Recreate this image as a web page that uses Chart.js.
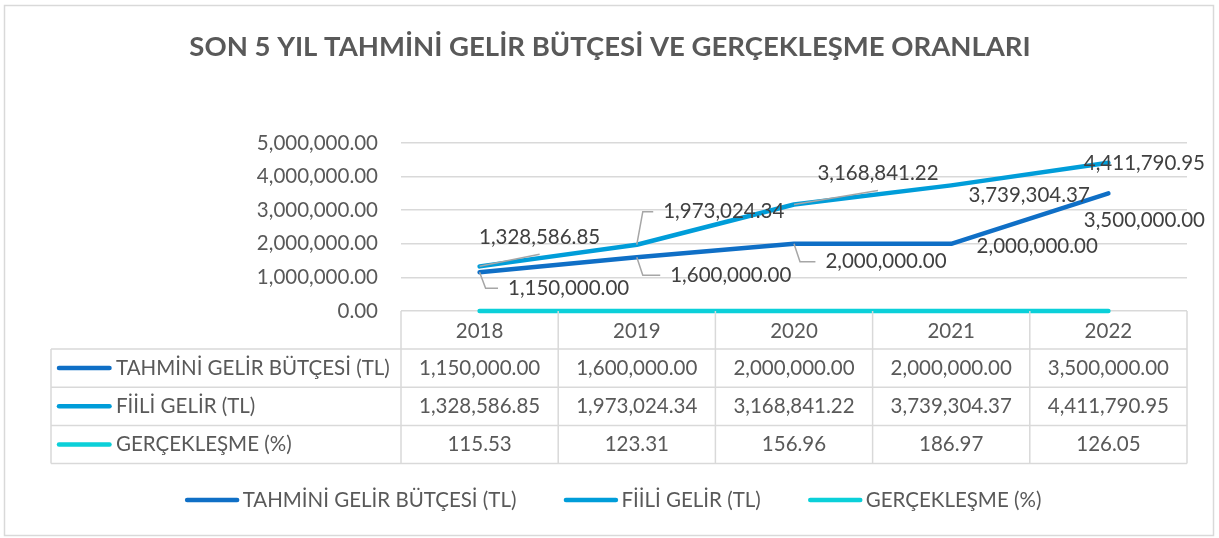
<!DOCTYPE html>
<html><head><meta charset="utf-8">
<script src="https://cdn.jsdelivr.net/npm/chart.js@4"></script>
<style>html,body{margin:0;padding:0;background:#fff;overflow:hidden}</style>
</head><body>
<canvas id="c" width="1219" height="538"></canvas>
<script>
// ---- data ----
const TITLE = 'SON 5 YIL TAHMİNİ GELİR BÜTÇESİ VE GERÇEKLEŞME ORANLARI';
const years = ['2018', '2019', '2020', '2021', '2022'];
const seriesNames = ['TAHMİNİ GELİR BÜTÇESİ (TL)', 'FİİLİ GELİR (TL)', 'GERÇEKLEŞME (%)'];
const budget = [1150000, 1600000, 2000000, 2000000, 3500000];
const actual = [1328586.85, 1973024.34, 3168841.22, 3739304.37, 4411790.95];
const realization = [115.53, 123.31, 156.96, 186.97, 126.05];
const yTicks = [0, 1000000, 2000000, 3000000, 4000000, 5000000];

// ---- styling ----
const COLORS = ['#0F6FC6', '#009DD9', '#0BD0D9'];
const FONT = 'Lato';
const FS = 20.5;
const TEXT = '#595959';
const LABEL_TEXT = '#404040';
const GRID = '#d9d9d9';
// data label placement relative to each point [dx, dy, leader]
const labelPlacement = [
  [[89, 16, 'elbow'], [94, 18, 'elbow'], [92, 18, 'elbow'], [86, 3, null], [36, 27, null]],
  [[60, -29, 'diag'], [87, -33, 'elbow'], [84, -31, 'diag'], [78, 10, null], [36, 1, null]]
];

const fmt = v => v.toLocaleString('en-US', {minimumFractionDigits: 2, maximumFractionDigits: 2});
const seriesValues = [budget, actual, realization];

const framePlugin = {
  id: 'frame',
  beforeDraw(chart) {
    const ctx = chart.ctx;
    ctx.save();
    ctx.fillStyle = '#fff';
    ctx.fillRect(0, 0, chart.width, chart.height);
    ctx.strokeStyle = GRID;
    ctx.lineWidth = 1.5;
    ctx.strokeRect(4.5, 5.5, 1209, 530);
    ctx.restore();
  }
};

const labelsPlugin = {
  id: 'dataLabels',
  afterDatasetsDraw(chart) {
    const ctx = chart.ctx;
    ctx.save();
    ctx.font = FS + 'px ' + FONT;
    ctx.textAlign = 'center';
    ctx.textBaseline = 'middle';
    for (let d = 0; d < 2; d++) {
      const meta = chart.getDatasetMeta(d);
      meta.data.forEach((pt, i) => {
        const [dx, dy, leader] = labelPlacement[d][i];
        const txt = fmt(chart.data.datasets[d].data[i]);
        const lx = pt.x + dx, ly = pt.y + dy;
        const w = ctx.measureText(txt).width;
        ctx.strokeStyle = '#a6a6a6';
        ctx.lineWidth = 1.5;
        if (leader === 'elbow') {
          ctx.beginPath();
          ctx.moveTo(pt.x, pt.y);
          ctx.lineTo(pt.x + 6, ly);
          ctx.lineTo(lx - w / 2 - 10, ly);
          ctx.stroke();
        } else if (leader === 'diag') {
          ctx.beginPath();
          ctx.moveTo(pt.x, pt.y);
          ctx.lineTo(lx, ly + 17);
          ctx.stroke();
        }
        ctx.fillStyle = LABEL_TEXT;
        ctx.fillText(txt, lx, ly);
      });
    }
    ctx.restore();
  }
};

const tablePlugin = {
  id: 'dataTable',
  afterDraw(chart) {
    const ctx = chart.ctx;
    const area = chart.chartArea;
    const n = years.length;
    const colW = (area.right - area.left) / n;
    const top = area.bottom;
    const headH = 38;
    const rowH = 38.2;
    const tableLeft = 51;
    const bottom = top + headH + rowH * 3;
    ctx.save();
    ctx.strokeStyle = GRID;
    ctx.lineWidth = 1.5;
    for (let c = 0; c <= n; c++) {
      const x = area.left + c * colW;
      ctx.beginPath(); ctx.moveTo(x, top); ctx.lineTo(x, bottom); ctx.stroke();
    }
    ctx.beginPath(); ctx.moveTo(tableLeft, top + headH); ctx.lineTo(tableLeft, bottom); ctx.stroke();
    for (let r = 0; r <= 3; r++) {
      const y = top + headH + r * rowH;
      ctx.beginPath(); ctx.moveTo(tableLeft, y); ctx.lineTo(area.right, y); ctx.stroke();
    }
    ctx.font = FS + 'px ' + FONT;
    ctx.fillStyle = TEXT;
    ctx.textBaseline = 'middle';
    ctx.textAlign = 'center';
    years.forEach((yr, c) => ctx.fillText(yr, area.left + (c + 0.5) * colW, top + headH / 2 + 1));
    seriesValues.forEach((vals, r) => {
      const cy = top + headH + (r + 0.5) * rowH;
      ctx.textAlign = 'center';
      ctx.fillStyle = TEXT;
      vals.forEach((v, c) => ctx.fillText(fmt(v), area.left + (c + 0.5) * colW, cy));
      ctx.strokeStyle = COLORS[r];
      ctx.lineWidth = 4.5;
      ctx.lineCap = 'round';
      ctx.beginPath(); ctx.moveTo(59, cy); ctx.lineTo(109.5, cy); ctx.stroke();
      ctx.lineCap = 'butt';
      ctx.textAlign = 'left';
      ctx.fillText(seriesNames[r], 116, cy);
    });
    // legend
    const keyW = 55, keyGap = 3, itemGap = 47, ly = 500;
    const widths = seriesNames.map(s => ctx.measureText(s).width);
    const total = widths.reduce((a, b) => a + b, 0) + 3 * (keyW + keyGap) + 2 * itemGap;
    let x = 613 - total / 2;
    seriesNames.forEach((s, i) => {
      ctx.strokeStyle = COLORS[i];
      ctx.lineWidth = 4.5;
      ctx.lineCap = 'round';
      ctx.beginPath(); ctx.moveTo(x + 2.5, ly); ctx.lineTo(x + keyW - 2.5, ly); ctx.stroke();
      ctx.fillStyle = TEXT;
      ctx.textAlign = 'left';
      ctx.fillText(s, x + keyW + keyGap, ly);
      x += keyW + keyGap + widths[i] + itemGap;
    });
    ctx.restore();
  }
};

new Chart(document.getElementById('c'), {
  type: 'line',
  data: {
    labels: years,
    datasets: seriesNames.map((name, i) => ({
      label: name,
      data: seriesValues[i],
      borderColor: COLORS[i],
      backgroundColor: COLORS[i],
      borderWidth: 4.5,
      borderCapStyle: 'round',
      borderJoinStyle: 'round',
      pointRadius: 0,
      pointHoverRadius: 0,
      tension: 0,
      clip: false
    }))
  },
  options: {
    responsive: false,
    devicePixelRatio: 1,
    animation: false,
    layout: {padding: {left: 33, right: 32, top: 0, bottom: 0}},
    plugins: {
      legend: {display: false},
      tooltip: {enabled: false},
      title: {
        display: true,
        text: TITLE,
        color: TEXT,
        font: {family: FONT, size: 27.5, weight: 'bold', lineHeight: 1.2},
        padding: {top: 30.5, bottom: 79.5}
      }
    },
    scales: {
      x: {
        offset: true,
        ticks: {display: false},
        grid: {display: false, offset: true},
        border: {display: false},
        afterFit(s) { s.height = 227; }
      },
      y: {
        min: yTicks[0],
        max: yTicks[yTicks.length - 1],
        ticks: {
          stepSize: yTicks[1] - yTicks[0],
          color: TEXT,
          font: {family: FONT, size: FS},
          padding: 23,
          callback: v => fmt(v)
        },
        grid: {color: GRID, lineWidth: 1.5, drawTicks: false},
        border: {display: false},
        afterFit(s) { s.width = 368; }
      }
    }
  },
  plugins: [framePlugin, labelsPlugin, tablePlugin]
});
</script>
</body></html>
